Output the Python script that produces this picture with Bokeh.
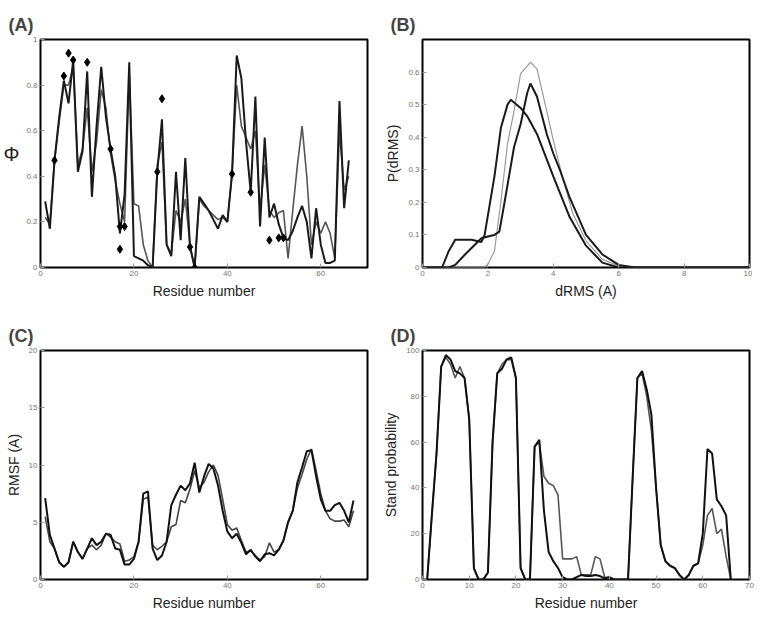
from bokeh.plotting import figure
from bokeh.layouts import gridplot
from bokeh.models import FixedTicker, Range1d
from bokeh.embed import file_html
from bokeh.resources import INLINE

FONT = "Liberation Sans"

# ---------------- Panel A data ----------------
residues_a = list(range(1, 67))
phi_sim1 = [0.29, 0.17, 0.47, 0.66, 0.82, 0.72, 0.91, 0.42, 0.51, 0.86,
            0.31, 0.62, 0.88, 0.66, 0.52, 0.40, 0.15, 0.32, 0.90, 0.05,
            0.04, 0.03, 0.01, 0.00, 0.42, 0.65, 0.10, 0.05, 0.42, 0.12,
            0.48, 0.09, 0.00, 0.31, 0.28, 0.25, 0.21, 0.17, 0.23, 0.20,
            0.41, 0.93, 0.83, 0.55, 0.33, 0.75, 0.18, 0.57, 0.22, 0.28,
            0.19, 0.13, 0.12, 0.16, 0.22, 0.27, 0.20, 0.04, 0.26, 0.10,
            0.02, 0.02, 0.03, 0.73, 0.26, 0.47]
phi_sim2 = [0.22, 0.19, 0.47, 0.64, 0.80, 0.80, 0.88, 0.45, 0.52, 0.70,
            0.42, 0.55, 0.78, 0.70, 0.50, 0.38, 0.28, 0.20, 0.85, 0.28,
            0.27, 0.10, 0.03, 0.00, 0.45, 0.55, 0.10, 0.06, 0.25, 0.20,
            0.30, 0.10, 0.00, 0.30, 0.27, 0.25, 0.23, 0.21, 0.22, 0.20,
            0.41, 0.80, 0.62, 0.57, 0.52, 0.60, 0.25, 0.45, 0.25, 0.22,
            0.24, 0.25, 0.04, 0.25, 0.45, 0.62, 0.40, 0.10, 0.20, 0.15,
            0.20, 0.15, 0.04, 0.60, 0.34, 0.40]
phi_exp_res = [3, 5, 6, 7, 10, 15, 17, 17, 18, 25, 26, 32, 33, 41, 45, 49, 51, 52]
phi_exp_val = [0.47, 0.84, 0.94, 0.91, 0.90, 0.52, 0.08, 0.18, 0.18, 0.42,
               0.74, 0.09, 0.00, 0.41, 0.33, 0.12, 0.13, 0.13]

# ---------------- Panel B data ----------------
drms_x1 = [0, 0.6, 0.8, 1.0, 1.5, 1.8, 1.9, 2.2, 2.4, 2.6, 2.7, 3.0, 3.2, 3.5,
           4.0, 4.5, 5.0, 5.5, 6.0, 10]
drms_p1 = [0, 0, 0.05, 0.085, 0.085, 0.078, 0.10, 0.28, 0.43, 0.50, 0.515,
           0.49, 0.465, 0.41, 0.28, 0.155, 0.067, 0.015, 0.0, 0]
drms_x2 = [0, 0.8, 1.0, 1.3, 1.6, 1.8, 2.0, 2.2, 2.35, 2.5, 2.8, 3.0, 3.2,
           3.3, 3.5, 3.8, 4.0, 4.2, 4.5, 5.0, 5.5, 6.0, 6.5, 10]
drms_p2 = [0, 0, 0.008, 0.04, 0.07, 0.09, 0.095, 0.10, 0.11, 0.195, 0.37,
           0.44, 0.535, 0.565, 0.525, 0.41, 0.35, 0.30, 0.215, 0.10, 0.04,
           0.008, 0.0, 0]
drms_x3 = [0, 1.9, 2.0, 2.2, 2.4, 2.6, 2.8, 3.0, 3.3, 3.5, 3.8, 4.0, 4.3,
           4.6, 5.0, 5.5, 6.0, 6.5, 10]
drms_p3 = [0, 0, 0.01, 0.05, 0.205, 0.38, 0.48, 0.595, 0.63, 0.61, 0.48,
           0.39, 0.27, 0.165, 0.082, 0.025, 0.005, 0.0, 0]

# ---------------- Panel C data ----------------
residues_c = list(range(1, 68))
rmsf_1 = [7.1, 3.9, 2.7, 1.5, 1.1, 1.5, 3.3, 2.4, 1.8, 2.7,
          3.6, 3.0, 3.3, 4.0, 3.9, 2.7, 2.6, 1.3, 1.3, 1.8,
          3.3, 7.5, 7.7, 2.7, 1.7, 2.1, 3.3, 6.5, 7.4, 8.2,
          7.8, 8.4, 10.2, 7.6, 9.0, 10.1, 9.7, 8.2, 6.0, 4.2,
          3.6, 4.0, 3.2, 2.2, 2.6, 2.0, 1.6, 2.2, 2.3, 2.1,
          2.6, 3.4, 5.0, 6.0, 8.5, 9.8, 11.2, 11.3, 9.0, 7.0,
          6.0, 6.0, 6.5, 6.7, 6.0, 5.0, 6.9]
rmsf_2 = [5.5, 3.3, 2.7, 1.5, 1.1, 1.5, 3.3, 2.4, 1.8, 2.7,
          3.0, 2.6, 3.0, 4.0, 3.7, 3.3, 3.1, 1.6, 1.7, 2.0,
          3.3, 7.0, 7.2, 3.0, 2.6, 2.9, 3.3, 4.6, 4.8, 6.9,
          6.7, 7.9, 9.5, 8.0, 8.5, 9.4, 10.0, 9.1, 7.0, 4.8,
          4.3, 4.5, 3.4, 2.4, 2.5, 2.1, 1.7, 2.0, 3.2, 2.4,
          2.6, 3.4, 5.0, 6.0, 8.0, 9.2, 10.5, 11.4, 9.5, 7.5,
          6.0, 5.3, 5.1, 5.1, 5.2, 4.6, 6.0]

# ---------------- Panel D data ----------------
residues_d = list(range(1, 67))
strand_1 = [0, 28, 55, 93, 98, 96, 91, 90, 88, 70,
            5, 0, 0, 3, 60, 90, 92, 96, 97, 88,
            5, 0, 0, 58, 61, 30, 12, 8, 5, 1,
            0, 0, 1, 2, 1.5, 1.5, 2, 1.5, 0.5, 1,
            0, 0, 0, 0, 45, 88, 91, 83, 72, 40,
            15, 8, 6, 5, 2, 0, 2, 6, 7, 20,
            57, 55, 35, 32, 28, 0]
strand_2 = [0, 28, 55, 93, 97, 94, 88, 93, 88, 70,
            5, 0, 0, 3, 60, 90, 94, 96, 96, 88,
            5, 0, 0, 58, 60, 45, 42, 41, 37, 9,
            9, 9, 10, 2, 2, 2, 10, 9, 1, 1,
            0, 0, 0, 0, 45, 88, 90, 80, 65, 40,
            15, 8, 6, 5, 2, 0, 2, 6, 7, 15,
            28, 31, 20, 22, 10, 0]

# ---------------- ticks ----------------
ticks_a_x = [0, 20, 40, 60]
ticks_a_y = [0, 0.2, 0.4, 0.6, 0.8, 1.0]
ticks_b_x = [0, 2, 4, 6, 8, 10]
ticks_b_y = [0, 0.1, 0.2, 0.3, 0.4, 0.5, 0.6]
ticks_c_x = [0, 20, 40, 60]
ticks_c_y = [0, 5, 10, 15, 20]
ticks_d_x = [0, 10, 20, 30, 40, 50, 60, 70]
ticks_d_y = [0, 20, 40, 60, 80, 100]


def style_axis(ax, ticks):
    ax.ticker = FixedTicker(ticks=ticks)
    ax.axis_line_color = None
    ax.major_tick_in = 4
    ax.major_tick_out = 0
    ax.minor_tick_in = 0
    ax.minor_tick_out = 0
    ax.major_tick_line_color = "#999999"
    ax.major_tick_line_width = 1
    ax.major_label_text_font = FONT
    ax.major_label_text_color = "#777777"
    ax.major_label_text_font_size = "8px"
    ax.major_label_standoff = 3
    ax.axis_label_text_font = FONT
    ax.axis_label_text_font_size = "14px"
    ax.axis_label_text_font_style = "normal"
    ax.axis_label_text_color = "#222222"
    ax.axis_label_standoff = 4


def make_fig(title, fw, fh, l, r, t, b, xr, yr, xt, yt, xlabel, ylabel):
    p = figure(frame_width=fw, frame_height=fh,
               x_range=Range1d(*xr), y_range=Range1d(*yr),
               output_backend="svg", toolbar_location=None,
               min_border_left=l, min_border_right=r,
               min_border_top=t, min_border_bottom=b)
    p.grid.visible = False
    p.outline_line_color = "black"
    p.outline_line_width = 2
    p.outline_line_alpha = 1
    p.background_fill_color = "white"
    p.border_fill_color = "white"
    style_axis(p.xaxis[0], xt)
    style_axis(p.yaxis[0], yt)
    p.xaxis[0].axis_label = xlabel
    p.yaxis[0].axis_label = ylabel
    p.title.text = title
    p.title.text_font = FONT
    p.title.text_font_size = "18px"
    p.title.text_font_style = "bold"
    p.title.align = "left"
    p.title.offset = -32
    p.title.standoff = 9
    return p


pa = make_fig("(A)", 327, 228, 32, 13, 39, 33, (0, 70), (0, 1),
              ticks_a_x, ticks_a_y, "Residue number", "Φ")
pa.yaxis[0].axis_label_orientation = "horizontal"
pa.yaxis[0].axis_label_text_font_size = "20px"
pa.yaxis[0].major_label_overrides = {0: "0", 1: "1"}
pa.line(residues_a, phi_sim2, line_color="#555555", line_width=1.6)
pa.line(residues_a, phi_sim1, line_color="#1a1a1a", line_width=2)
pa.scatter(phi_exp_res, phi_exp_val, marker="diamond", size=8,
           fill_color="black", line_color="black")

pb = make_fig("(B)", 327, 228, 39, 5, 39, 33, (0, 10), (0, 0.7),
              ticks_b_x, ticks_b_y, "dRMS (A)", "P(dRMS)")
pb.yaxis[0].major_label_overrides = {0: "0"}
pb.line(drms_x3, drms_p3, line_color="#9a9a9a", line_width=1.2)
pb.line(drms_x1, drms_p1, line_color="#1a1a1a", line_width=2)
pb.line(drms_x2, drms_p2, line_color="#1a1a1a", line_width=2)

pc = make_fig("(C)", 327, 229, 32, 13, 49, 32, (0, 70), (0, 20),
              ticks_c_x, ticks_c_y, "Residue number", "RMSF (A)")
pc.line(residues_c, rmsf_2, line_color="#444444", line_width=1.6)
pc.line(residues_c, rmsf_1, line_color="#111111", line_width=2)

pd_ = make_fig("(D)", 327, 229, 39, 5, 49, 32, (0, 70), (0, 100),
               ticks_d_x, ticks_d_y, "Residue number", "Stand probability")
pd_.line(residues_d, strand_2, line_color="#555555", line_width=1.6)
pd_.line(residues_d, strand_1, line_color="#111111", line_width=2)

grid = gridplot([[pa, pb], [pc, pd_]], toolbar_location=None)

open("out.html", "w").write(file_html(grid, INLINE))
